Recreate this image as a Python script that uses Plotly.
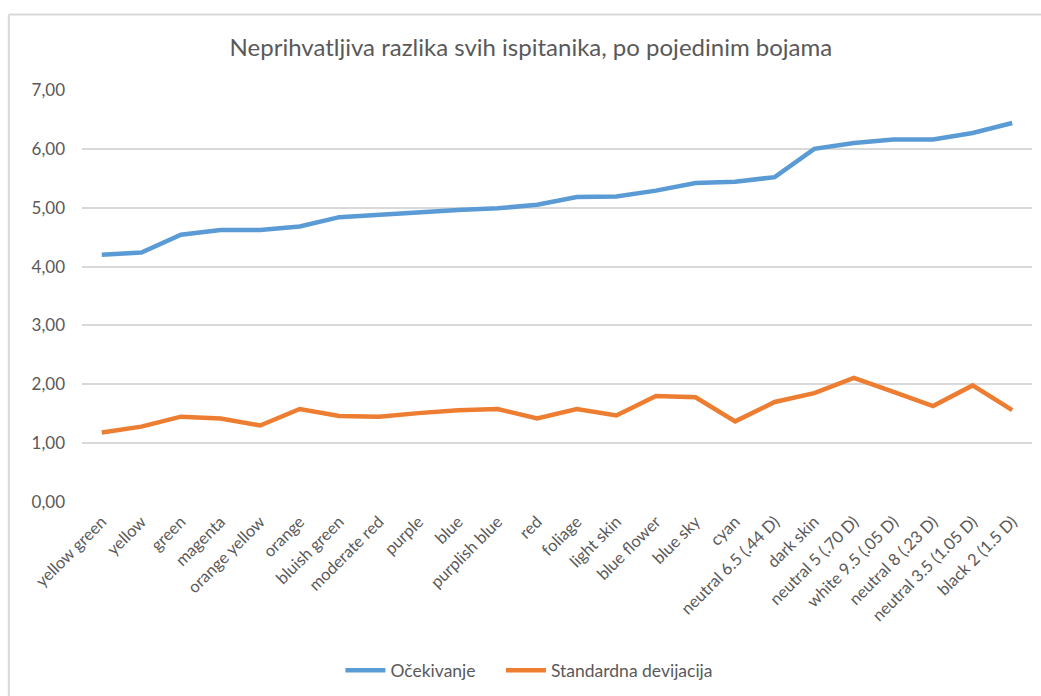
import plotly.graph_objects as go

# Colour patches, ordered by expected unacceptable difference
categories = [
    "yellow green", "yellow", "green", "magenta", "orange yellow", "orange",
    "bluish green", "moderate red", "purple", "blue", "purplish blue", "red",
    "foliage", "light skin", "blue flower", "blue sky", "cyan",
    "neutral 6.5 (.44 D)", "dark skin", "neutral 5 (.70 D)",
    "white 9.5 (.05 D)", "neutral 8 (.23 D)", "neutral 3.5 (1.05 D)",
    "black 2 (1.5 D)",
]

ocekivanje = [
    4.20, 4.24, 4.54, 4.62, 4.62, 4.68, 4.84, 4.88, 4.93, 4.96, 4.99, 5.05,
    5.18, 5.19, 5.29, 5.42, 5.44, 5.52, 6.00, 6.10, 6.16, 6.16, 6.27, 6.44,
]

std_devijacija = [
    1.18, 1.28, 1.45, 1.42, 1.30, 1.58, 1.46, 1.45, 1.51, 1.56, 1.58, 1.42,
    1.58, 1.47, 1.80, 1.78, 1.37, 1.70, 1.85, 2.11, 1.87, 1.63, 1.98, 1.56,
]

y_ticks = [0, 1, 2, 3, 4, 5, 6, 7]

FONT = "Lato"
TEXT_GREY = "#595959"
GRID = "#d9d9d9"

fig = go.Figure()
fig.add_trace(go.Scatter(
    x=categories, y=ocekivanje, name="Očekivanje", mode="lines",
    line=dict(color="#5B9BD5", width=4.5), legend="legend", showlegend=True,
))
fig.add_trace(go.Scatter(
    x=categories, y=std_devijacija, name="Standardna devijacija", mode="lines",
    line=dict(color="#ED7D31", width=4.5), legend="legend2", showlegend=True,
))

legend_style = dict(
    orientation="h", xanchor="left", y=-0.405, yanchor="middle",
    font=dict(family=FONT, size=17.5, color=TEXT_GREY),
    itemwidth=40, bgcolor="rgba(0,0,0,0)",
)

fig.update_layout(
    width=1041, height=696,
    margin=dict(l=82, r=9, t=90, b=193),
    paper_bgcolor="white", plot_bgcolor="white",
    separators=",.",
    showlegend=True,
    font=dict(family=FONT, color=TEXT_GREY, size=17),
    title=dict(
        text="Neprihvatljiva razlika svih ispitanika, po pojedinim bojama",
        x=0.51, xanchor="center", y=0.931, yanchor="middle",
        font=dict(family=FONT, size=24, color=TEXT_GREY),
    ),
    legend=dict(x=0.272, **legend_style),
    legend2=dict(x=0.441, **legend_style),
    xaxis=dict(
        type="category", range=[-0.5, len(categories) - 0.5],
        tickangle=-45, showgrid=False, showline=False, zeroline=False,
        ticks="", ticklabelstandoff=6,
        tickfont=dict(family=FONT, size=16.5, color=TEXT_GREY),
    ),
    yaxis=dict(
        range=[0, 7], tickvals=y_ticks, tickformat=".2f",
        showgrid=True, gridcolor=GRID, gridwidth=1.5,
        zeroline=False, showline=False, ticks="",
        ticklabelstandoff=16,
        tickfont=dict(family=FONT, size=17, color=TEXT_GREY),
    ),
    shapes=[
        # chart frame: left and top edges
        dict(type="line", xref="paper", yref="paper",
             x0=-0.077, x1=-0.077, y0=1.183, y1=-0.5,
             line=dict(color=GRID, width=2)),
        dict(type="line", xref="paper", yref="paper",
             x0=-0.077, x1=1.02, y0=1.183, y1=1.183,
             line=dict(color=GRID, width=2)),
    ],
)

fig.write_html("out.html")
